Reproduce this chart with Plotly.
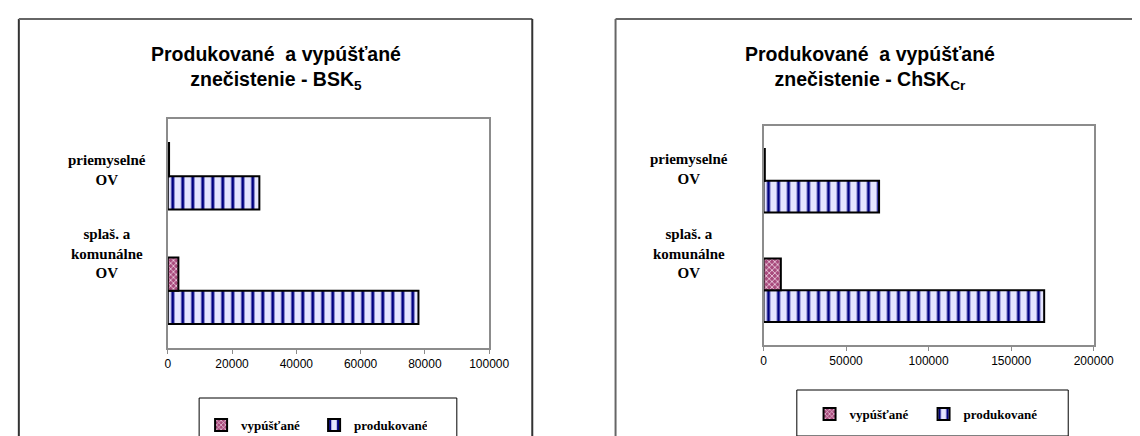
import plotly.graph_objects as go

# ---- data ----
categories = ["splaš. a<br>komunálne<br>OV", "priemyselné<br>OV"]
series_names = ["vypúšťané", "produkované"]

bsk_produkovane = [78000, 28500]
bsk_vypustane = [3300, 400]

chsk_produkovane = [170000, 70000]
chsk_vypustane = [10500, 800]

titles = ["Produkované  a vypúšťané<br>znečistenie - BSK<sub>5</sub>",
          "Produkované  a vypúšťané<br>znečistenie - ChSK<sub>Cr</sub>"]
x_ranges = [[0, 100000], [0, 200000]]
x_dticks = [20000, 50000]

W, H = 1140, 436
def px(x):
    return x / W
def py(y):
    return 1 - y / H

SERIF = "Liberation Serif, Times New Roman, serif"
SANS = "Liberation Sans, Arial, sans-serif"

fig = go.Figure()

prod_marker = dict(color="white", line=dict(color="black", width=2),
                   pattern=dict(shape="|", fgcolor="#000080", bgcolor="#e6e6ff",
                                size=10, solidity=0.3, fillmode="replace"))
vyp_marker = dict(color="#993366", line=dict(color="black", width=2),
                  pattern=dict(shape="x", fgcolor="#f4dcea", bgcolor="#a84a7c",
                               size=4, solidity=0.35, fillmode="replace"))

panels = [
    (bsk_produkovane, bsk_vypustane, "x", "y", "legend"),
    (chsk_produkovane, chsk_vypustane, "x2", "y2", "legend2"),
]
for prod, vyp, xa, ya, lg in panels:
    fig.add_trace(go.Bar(y=categories, x=prod, orientation="h", name=series_names[1],
                         marker=prod_marker, xaxis=xa, yaxis=ya, legend=lg, legendrank=2))
    fig.add_trace(go.Bar(y=categories, x=vyp, orientation="h", name=series_names[0],
                         marker=vyp_marker, xaxis=xa, yaxis=ya, legend=lg, legendrank=1))

# plot area domains (pixels -> paper)
dom = [
    dict(x=[px(160), px(488)], y=[py(340), py(111)]),
    dict(x=[px(768), px(1105)], y=[py(337), py(118)]),
]

axis_common = dict(showgrid=False, zeroline=False, showline=True, mirror=True,
                   linecolor="#8c8c8c", linewidth=2)
for i in range(2):
    sfx = "" if i == 0 else "2"
    fig.layout["xaxis" + sfx] = dict(
        domain=dom[i]["x"], anchor="y" + sfx, range=x_ranges[i], dtick=x_dticks[i],
        tickformat="d", ticks="outside", ticklen=4, tickcolor="#8c8c8c",
        tickfont=dict(family=SANS, size=12, color="black"), fixedrange=True,
        **axis_common)
    fig.layout["yaxis" + sfx] = dict(
        domain=dom[i]["y"], anchor="x" + sfx, showticklabels=False, ticks="",
        fixedrange=True, **axis_common)

annotations = []
# titles
title_x = [px(270), px(877)]
for i in range(2):
    annotations.append(dict(text=titles[i], x=title_x[i], y=py(60), xref="paper", yref="paper",
                            showarrow=False, xanchor="center", yanchor="middle",
                            font=dict(family=SANS, size=19.5, color="black", weight="bold")))
# category labels
label_x = [px(98), px(692)]
shifts = [[37, 6], [37, 12]]
for i in range(2):
    sfx = "" if i == 0 else "2"
    for j, c in enumerate(categories):
        annotations.append(dict(text=c, x=label_x[i], xref="paper", y=c, yref="y" + sfx,
                                yshift=shifts[i][j], showarrow=False, xanchor="center",
                                yanchor="middle",
                                font=dict(family=SERIF, size=15, color="black", weight="bold")))

shapes = [
    # outer chart frames
    dict(type="line", xref="paper", yref="paper", x0=px(8), x1=px(8), y0=py(11), y1=py(440),
         line=dict(color="#333333", width=2)),
    dict(type="line", xref="paper", yref="paper", x0=px(8), x1=px(532), y0=py(11), y1=py(11),
         line=dict(color="#666666", width=2)),
    dict(type="line", xref="paper", yref="paper", x0=px(532), x1=px(532), y0=py(11), y1=py(440),
         line=dict(color="#333333", width=2)),
    dict(type="line", xref="paper", yref="paper", x0=px(617), x1=px(617), y0=py(11), y1=py(440),
         line=dict(color="#666666", width=2)),
    dict(type="line", xref="paper", yref="paper", x0=px(617), x1=px(1145), y0=py(11), y1=py(11),
         line=dict(color="#666666", width=2)),
    # legend boxes
    dict(type="rect", xref="paper", yref="paper", x0=px(192), x1=px(455), y0=py(445), y1=py(390),
         line=dict(color="black", width=1)),
    dict(type="rect", xref="paper", yref="paper", x0=px(802), x1=px(1079), y0=py(428), y1=py(382),
         line=dict(color="black", width=1)),
]

legend_font = dict(family=SERIF, size=13, color="black", weight="bold")
fig.update_layout(
    width=W, height=H, margin=dict(l=0, r=0, t=0, b=0),
    paper_bgcolor="white", plot_bgcolor="white",
    barmode="group", bargap=0.42, bargroupgap=0,
    showlegend=True,
    legend=dict(orientation="h", x=px(194), y=py(417), xanchor="left", yanchor="middle",
                font=legend_font, bgcolor="rgba(0,0,0,0)", borderwidth=0,
                entrywidth=68, entrywidthmode="pixels", itemwidth=30, traceorder="normal"),
    legend2=dict(orientation="h", x=px(815), y=py(406), xanchor="left", yanchor="middle",
                 font=legend_font, bgcolor="rgba(0,0,0,0)", borderwidth=0,
                 entrywidth=69, entrywidthmode="pixels", itemwidth=30, traceorder="normal"),
    annotations=annotations,
    shapes=shapes,
)

fig.write_html("out.html")
